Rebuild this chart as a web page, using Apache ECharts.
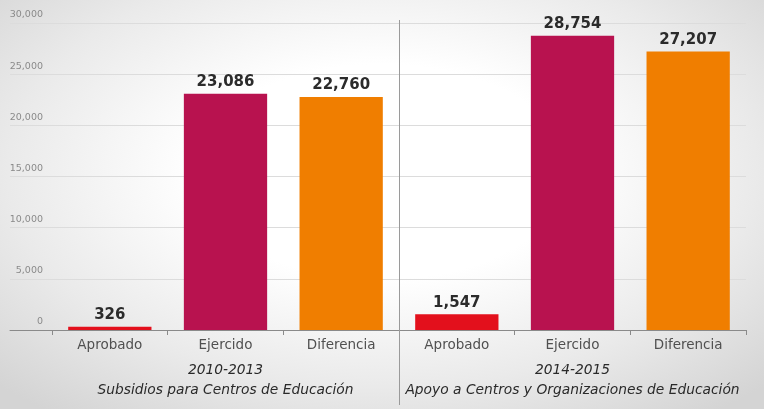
<!DOCTYPE html>
<html>
<head>
<meta charset="utf-8">
<script src="https://cdn.jsdelivr.net/npm/echarts@6/dist/echarts.min.js"></script>
<style>
html,body{margin:0;padding:0;}
body{width:764px;height:409px;overflow:hidden;
background:radial-gradient(ellipse 70% 75% at 50% 42%, #ffffff 35%, #eaeaea 70%, #d4d4d4 100%);}
#c{width:764px;height:409px;}
</style>
</head>
<body>
<div id="c"></div>
<script>
var categories = ['Aprobado','Ejercido','Diferencia','Aprobado','Ejercido','Diferencia'];
var values = [326, 23086, 22760, 1547, 28754, 27207];
var barColors = ['#e3101c','#b8124f','#f07e00','#e3101c','#b8124f','#f07e00'];
var groups = ['2010-2013\nSubsidios para Centros de Educación','2014-2015\nApoyo a Centros y Organizaciones de Educación'];
var yTicks = {min:0, max:30000, interval:5000};

var chart = echarts.init(document.getElementById('c'), null, {renderer:'canvas'});
var fmt = function(v){return v.toLocaleString('en-US');};
var option = {
  backgroundColor:'transparent',
  animation:false,
  grid:[
    {left:52, right:18, top:23, bottom:79},
    {left:10, right:18, top:23, bottom:79}
  ],
  xAxis:[
    {type:'category', gridIndex:0, data:categories,
     axisLine:{show:false},
     axisTick:{show:true, length:5, lineStyle:{color:'#8a8a8a'}},
     axisLabel:{interval:0, fontFamily:'DejaVu Sans', fontSize:13.5, color:'#505050', margin:8}},
    {type:'category', gridIndex:0, data:groups, position:'bottom', offset:22,
     axisLine:{show:false}, axisTick:{show:false},
     axisLabel:{interval:0, fontFamily:'DejaVu Sans', fontStyle:'italic', fontSize:13.8, color:'#2a2a2a', lineHeight:20}},
    {type:'value', gridIndex:1, min:0, max:1, show:true,
     axisLine:{show:true, lineStyle:{color:'#8a8a8a', width:1}},
     axisTick:{show:false}, axisLabel:{show:false}, splitLine:{show:false}}
  ],
  yAxis:[
    {type:'value', gridIndex:0, min:yTicks.min, max:yTicks.max, interval:yTicks.interval,
     axisLine:{show:false}, axisTick:{show:false}, splitLine:{show:false},
     axisLabel:{fontFamily:'DejaVu Sans', fontSize:9.5, color:'#8a8a8a', margin:9,
       verticalAlign:'bottom', padding:[0,0,3,0], formatter:function(v){return fmt(v);}}},
    {type:'value', gridIndex:1, min:yTicks.min, max:yTicks.max, interval:yTicks.interval,
     axisLine:{show:false}, axisTick:{show:false}, axisLabel:{show:false},
     splitLine:{show:true, lineStyle:{color:'#dcdcdc', width:1}}}
  ],
  series:[{
    type:'bar', xAxisIndex:0, yAxisIndex:0,
    barCategoryGap:'28%',
    data: values.map(function(v,i){return {value:v, itemStyle:{color:barColors[i]}};}),
    label:{show:true, position:'top', distance:4, fontFamily:'DejaVu Sans', fontWeight:'bold',
      fontSize:15, color:'#2b2b2b', formatter:function(p){return fmt(p.value);}}
  }]
};
chart.setOption(option);
// separator between the two groups, at the boundary between category 2 and 3
var x2 = chart.convertToPixel({xAxisIndex:0}, 2);
var x3 = chart.convertToPixel({xAxisIndex:0}, 3);
var sx = Math.round((x2 + x3)/2) + 0.5;
chart.setOption({graphic:[{type:'line', shape:{x1:sx, y1:20, x2:sx, y2:405},
  style:{stroke:'#9a9a9a', lineWidth:1}, z:10}]});
</script>
</body>
</html>
